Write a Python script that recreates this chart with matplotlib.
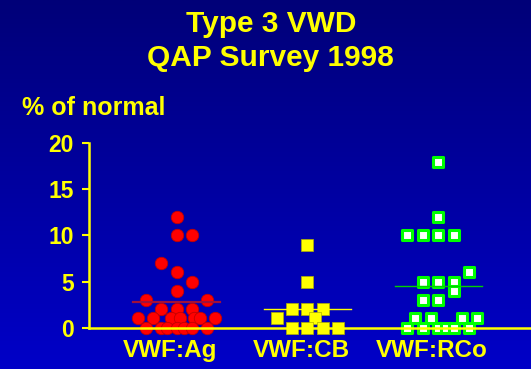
"""Type 3 VWD QAP survey 1998 - dot plot of VWF assays (% of normal)."""
import numpy as np
import matplotlib
matplotlib.use("Agg")
import matplotlib.pyplot as plt

CATEGORIES = ["VWF:Ag", "VWF:CB", "VWF:RCo"]

# values; slots = horizontal jitter in marker widths
AG_VALUES = [12, 10, 10, 7, 6, 5, 4, 3, 3, 2, 2, 2,
             1, 1, 1, 1, 1, 1, 1, 0, 0, 0, 0, 0, 0, 0]
AG_SLOTS = [0, 0, 1, -1, 0, 1, 0, -2, 2, -1, 0, 1,
            -2.5, -1.5, -0.35, 0.2, 1.1, 1.5, 2.5, -2, -1, -0.63, 0, 0.47, 1, 2]

CB_VALUES = [9, 5, 2, 2, 2, 1, 1, 0, 0, 0, 0]
CB_SLOTS = [0, 0, -1, 0, 1, -2, 0.5, -1, 0, 1, 2]

RCO_VALUES = [18, 12, 10, 10, 10, 10, 6, 5, 5, 5, 4, 3, 3,
              1, 1, 1, 1, 0, 0, 0, 0, 0, 0]
RCO_SLOTS = [0, 0, -2, -1, 0, 1, 2, -1, 0, 1, 1, -1, 0,
             -1.5, -0.5, 1.5, 2.5, -2, -1, 0, 0.5, 1, 2]

YTICKS = [0, 5, 10, 15, 20]

YELLOW = "#FFFF00"
SLOT = 0.118      # one marker width in category units
HALF = 0.335      # half length of the mean bar
FONT = ["Liberation Sans", "DejaVu Sans"]


def main():
    plt.rcParams["font.family"] = FONT
    plt.rcParams["font.weight"] = "bold"
    fig = plt.figure(figsize=(5.31, 3.69), dpi=100)

    # blue slide background, darker at the top
    bg = fig.add_axes([0, 0, 1, 1], zorder=-10)
    grad = np.linspace(0, 1, 256).reshape(-1, 1)
    cmap = matplotlib.colors.LinearSegmentedColormap.from_list(
        "slide", ["#0000C8", "#000078"])
    bg.imshow(grad, aspect="auto", cmap=cmap, origin="lower",
              extent=[0, 1, 0, 1])
    bg.set_axis_off()

    ax = fig.add_axes([0.1676, 0.112, 0.8324, 0.4997])
    ax.set_facecolor("none")

    x = np.arange(1, len(CATEGORIES) + 1)

    ag_x = x[0] + np.array(AG_SLOTS) * SLOT
    ax.scatter(ag_x, AG_VALUES, s=80, marker="o", color="#FF0000",
               edgecolors="#C00000", linewidths=0.6, zorder=2, clip_on=False)
    cb_x = x[1] + np.array(CB_SLOTS) * SLOT
    ax.scatter(cb_x, CB_VALUES, s=64, marker="s", color=YELLOW,
               edgecolors="#B0B000", linewidths=0.5, zorder=2, clip_on=False)
    rco_x = x[2] + np.array(RCO_SLOTS) * SLOT
    ax.scatter(rco_x, RCO_VALUES, s=50, marker="s", color="white",
               edgecolors="#00FF00", linewidths=2.2, zorder=2, clip_on=False)

    # mean bars
    for xi, vals, col, lw in [(x[0], AG_VALUES, "#A0103A", 1.6),
                              (x[1], CB_VALUES, YELLOW, 1.0),
                              (x[2], RCO_VALUES, "#00D000", 1.0)]:
        m = np.mean(vals)
        ax.plot([xi - HALF, xi + HALF], [m, m], color=col, lw=lw, zorder=4)

    ax.set_xlim(0.3305, 3.708)
    ax.set_ylim(0, 20)
    ax.set_yticks(YTICKS)
    ax.set_xticks(x - 0.05)
    ax.set_xticklabels(CATEGORIES)
    ax.tick_params(axis="y", colors=YELLOW, length=5, width=1.5,
                   labelsize=16.5, pad=6)
    ax.tick_params(axis="x", colors=YELLOW, length=0, labelsize=17.5, pad=8)
    for side in ["top", "right"]:
        ax.spines[side].set_visible(False)
    for side in ["left", "bottom"]:
        ax.spines[side].set_color(YELLOW)
        ax.spines[side].set_linewidth(1.8)
        ax.spines[side].set_zorder(3)

    fig.text(0.51, 0.914, "Type 3 VWD", color=YELLOW, fontsize=21.5,
             fontweight="bold", ha="center", va="baseline")
    fig.text(0.51, 0.822, "QAP Survey 1998", color=YELLOW, fontsize=21.5,
             fontweight="bold", ha="center", va="baseline")
    fig.text(0.041, 0.688, "% of normal", color=YELLOW, fontsize=18,
             fontweight="bold", ha="left", va="baseline")

    fig.savefig("out.png", dpi=100)


if __name__ == "__main__":
    main()
